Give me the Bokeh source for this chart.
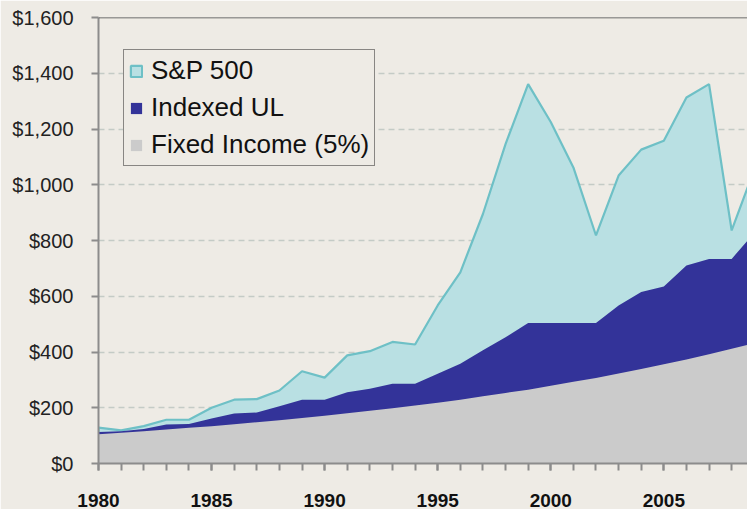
from bokeh.plotting import figure
from bokeh.models import (ColumnDataSource, SingleIntervalTicker, NumeralTickFormatter,
                          Span, Legend, LegendItem, Range1d)
from bokeh.embed import file_html
from bokeh.resources import INLINE

years = list(range(1980, 2010))
sp500 = [129, 119, 134, 157, 157, 200, 229, 231, 262, 331, 308, 388, 403, 436, 427,
         567, 686, 895, 1146, 1361, 1225, 1062, 818, 1033, 1126, 1158, 1313, 1361, 836, 1055]
indexed_ul = [113, 116, 124, 140, 142, 161, 179, 183, 205, 229, 229, 256, 268, 286, 286,
              322, 358, 406, 453, 504, 504, 504, 504, 567, 615, 635, 710, 734, 734, 828]
fixed_income = [105, 110, 116, 122, 128, 134, 141, 148, 155, 163, 171, 180, 189, 198, 208,
                218, 229, 241, 253, 265, 279, 293, 307, 323, 339, 356, 373, 392, 412, 432]
series_names = ["S&P 500", "Indexed UL", "Fixed Income (5%)"]

BG = "#EEEBE5"

src = ColumnDataSource(dict(year=years, sp=sp500, iul=indexed_ul, fi=fixed_income,
                            zero=[0] * len(years)))
sp_patch = ColumnDataSource(dict(x=years + [years[-1], years[0]], y=sp500 + [0, 0]))

p = figure(width=747, height=509, output_backend="svg", toolbar_location=None,
           x_range=Range1d(1980, 2008.7), y_range=Range1d(0, 1600),
           min_border_left=98, min_border_right=0, min_border_top=17, min_border_bottom=46,
           background_fill_color=BG, border_fill_color=BG)
p.outline_line_color = None

r_sp = p.patch("x", "y", source=sp_patch, fill_color="#B9E0E3",
               line_color="#6EC0C6", line_width=2.2)
r_iul = p.varea(x="year", y1="zero", y2="iul", source=src, fill_color="#333399")
r_fi = p.varea(x="year", y1="zero", y2="fi", source=src, fill_color="#CBCBCB")

# top border
p.add_layout(Span(location=1600, dimension="width", line_color="#404040", line_width=1.5))

# grid
p.xgrid.grid_line_color = None
p.ygrid.grid_line_color = "#C4CBC6"
p.ygrid.grid_line_dash = "6 4"
p.ygrid.grid_line_width = 1.5
p.ygrid.ticker = SingleIntervalTicker(interval=200)

# y axis
p.yaxis.ticker = SingleIntervalTicker(interval=200)
p.yaxis.formatter = NumeralTickFormatter(format="$0,0")
p.yaxis.axis_line_color = "#8C8C8C"
p.yaxis.axis_line_width = 2
p.yaxis.major_tick_line_color = "#8C8C8C"
p.yaxis.major_tick_line_width = 2
p.yaxis.major_tick_out = 7
p.yaxis.major_tick_in = 0
p.yaxis.minor_tick_line_color = None
p.yaxis.major_label_text_font = "Liberation Sans"
p.yaxis.major_label_text_font_size = "20px"
p.yaxis.major_label_text_color = "#222222"
p.yaxis.major_label_standoff = 18

# x axis
p.xaxis.ticker = SingleIntervalTicker(interval=5, num_minor_ticks=5)
p.xaxis.axis_line_color = "#8C8C8C"
p.xaxis.axis_line_width = 2
p.xaxis.major_tick_line_color = "#8C8C8C"
p.xaxis.major_tick_line_width = 2
p.xaxis.major_tick_out = 7
p.xaxis.major_tick_in = 0
p.xaxis.minor_tick_line_color = "#8C8C8C"
p.xaxis.minor_tick_line_width = 2
p.xaxis.minor_tick_out = 7
p.xaxis.minor_tick_in = 0
p.xaxis.major_label_text_font = "Liberation Sans"
p.xaxis.major_label_text_font_size = "19px"
p.xaxis.major_label_text_font_style = "bold"
p.xaxis.major_label_text_color = "#111111"
p.xaxis.major_label_standoff = 23

legend = Legend(items=[LegendItem(label=series_names[0], renderers=[r_sp]),
                       LegendItem(label=series_names[1], renderers=[r_iul]),
                       LegendItem(label=series_names[2], renderers=[r_fi])],
                location=(25, 297))
legend.label_text_font = "Liberation Sans"
legend.label_text_font_size = "26px"
legend.label_text_color = "#111111"
legend.glyph_width = 14
legend.glyph_height = 14
legend.label_standoff = 8
legend.padding = 5
legend.spacing = 6
legend.margin = 0
legend.border_line_color = "#222222"
legend.border_line_width = 1.5
legend.background_fill_color = BG
legend.background_fill_alpha = 1
p.add_layout(legend, "center")

html = file_html(p, INLINE)
html = html.replace("<body>", '<body style="background:%s">' % BG, 1)
open("out.html", "w").write(html)
